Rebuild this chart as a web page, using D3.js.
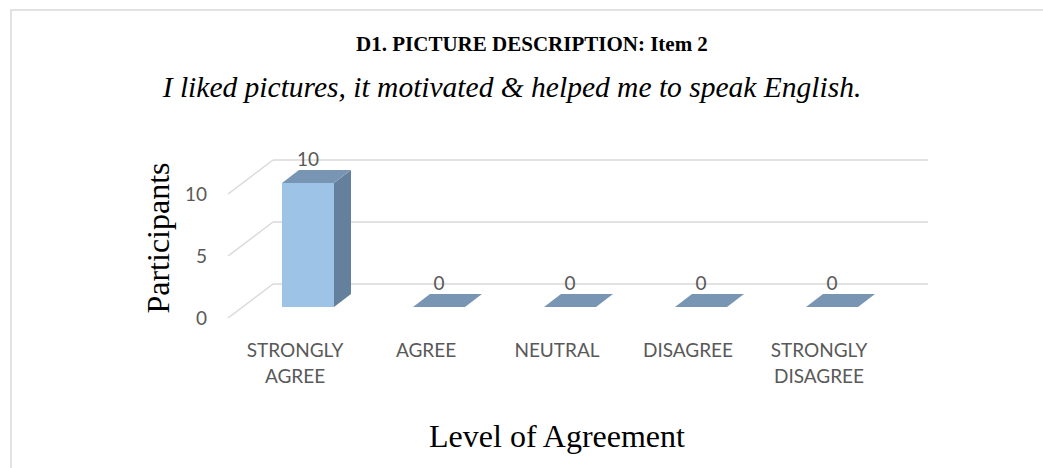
<!DOCTYPE html>
<html>
<head>
  <meta charset="utf-8">
  <style type="text/css">
  body {
    margin: 0;
    background: #fff;
  }
  svg {
    display: block;
  }
  .title {
    font-family: "Liberation Serif", "Times New Roman", serif;
    font-weight: bold;
    font-size: 21px;
    fill: #000;
  }
  .subtitle {
    font-family: "Liberation Serif", "Times New Roman", serif;
    font-style: italic;
    font-size: 29.5px;
    fill: #000;
  }
  .axis-title {
    font-family: "Liberation Serif", "Times New Roman", serif;
    font-size: 32px;
    fill: #000;
  }
  .tick-label, .cat-label, .data-label {
    font-family: Lato, "Open Sans", sans-serif;
    fill: #595959;
  }
  .tick-label { font-size: 19px; }
  .cat-label { font-size: 19px; }
  .data-label { font-size: 19px; }
  .grid line {
    stroke: #d9d9d9;
    stroke-width: 1.5px;
  }
  </style>
</head>
<body>
  <script src="https://d3js.org/d3.v7.min.js"></script>
  <script>
    // values
    var categories = ["STRONGLY AGREE", "AGREE", "NEUTRAL", "DISAGREE", "STRONGLY DISAGREE"];
    var participants = [10, 0, 0, 0, 0];
    var yTicks = [0, 5, 10];

    var W = 1043, H = 468;

    // 3d layout: back wall floor at y=284, front floor edge at y=318
    var wallBase = 284, wallLeft = 273, wallRight = 928;
    var floorDx = 45, floorDy = 34;
    var barBase = 307, barDx = 17, barDy = 13;

    var x = d3.scaleBand()
        .domain(categories)
        .range([242.5, 897.5])
        .paddingInner(0.603)
        .paddingOuter(0.3015);
    var y = d3.scaleLinear()
        .domain([0, 10])
        .range([0, 124]);

    var svg = d3.select("body").append("svg")
        .attr("width", W)
        .attr("height", H);

    // chart frame
    svg.append("rect")
        .attr("x", 11).attr("y", 10)
        .attr("width", W).attr("height", H)
        .attr("fill", "none")
        .attr("stroke", "#d9d9d9")
        .attr("stroke-width", 1.5);

    svg.append("text")
        .attr("class", "title")
        .attr("x", 532).attr("y", 51)
        .attr("text-anchor", "middle")
        .text("D1. PICTURE DESCRIPTION: Item 2");
    svg.append("text")
        .attr("class", "subtitle")
        .attr("x", 512).attr("y", 97)
        .attr("text-anchor", "middle")
        .text("I liked pictures, it motivated & helped me to speak English.");

    // gridlines on back wall + floor diagonal
    var grid = svg.append("g").attr("class", "grid");
    grid.selectAll(".wall").data(yTicks).enter().append("line")
        .attr("x1", wallLeft).attr("x2", wallRight)
        .attr("y1", function(d) { return wallBase - y(d); })
        .attr("y2", function(d) { return wallBase - y(d); });
    grid.selectAll(".side").data(yTicks).enter().append("line")
        .attr("x1", wallLeft - floorDx).attr("x2", wallLeft)
        .attr("y1", function(d) { return wallBase - y(d) + floorDy; })
        .attr("y2", function(d) { return wallBase - y(d); });

    svg.selectAll(".tick-label").data(yTicks).enter().append("text")
        .attr("class", "tick-label")
        .attr("x", 207)
        .attr("y", function(d) { return wallBase - y(d) + floorDy; })
        .attr("dy", "0.35em")
        .attr("text-anchor", "end")
        .text(function(d) { return d; });

    // bars
    var bars = svg.selectAll(".bar").data(categories).enter().append("g")
        .attr("class", "bar");
    bars.append("rect")
        .attr("x", function(d) { return x(d); })
        .attr("y", function(d, i) { return barBase - y(participants[i]); })
        .attr("width", x.bandwidth())
        .attr("height", function(d, i) { return y(participants[i]); })
        .attr("fill", "#9dc3e6");
    bars.append("polygon")
        .attr("points", function(d, i) {
          var x1 = x(d) + x.bandwidth(), t = barBase - y(participants[i]);
          return [[x1, t], [x1 + barDx, t - barDy], [x1 + barDx, barBase - barDy], [x1, barBase]].join(" ");
        })
        .attr("fill", "#65809c");
    bars.append("polygon")
        .attr("points", function(d, i) {
          var x0 = x(d), x1 = x0 + x.bandwidth(), t = barBase - y(participants[i]);
          return [[x0, t], [x1, t], [x1 + barDx, t - barDy], [x0 + barDx, t - barDy]].join(" ");
        })
        .attr("fill", "#7896b4");

    svg.selectAll(".data-label").data(categories).enter().append("text")
        .attr("class", "data-label")
        .attr("x", function(d) { return x(d) + x.bandwidth() / 2; })
        .attr("y", function(d, i) { return barBase - y(participants[i]) - barDy - 4; })
        .attr("text-anchor", "middle")
        .text(function(d, i) { return participants[i]; });

    // category labels, wrapped on spaces
    var cat = svg.selectAll(".cat-label").data(categories).enter().append("text")
        .attr("class", "cat-label")
        .attr("text-anchor", "middle");
    cat.each(function(d) {
      var t = d3.select(this);
      var cx = x(d) + x.bandwidth() / 2 - 13;
      d.split(" ").forEach(function(w, k) {
        t.append("tspan")
          .attr("x", cx)
          .attr("y", 357 + k * 26)
          .text(w);
      });
    });

    svg.append("text")
        .attr("class", "axis-title")
        .attr("transform", "translate(169,238) rotate(-90)")
        .attr("text-anchor", "middle")
        .text("Participants");
    svg.append("text")
        .attr("class", "axis-title")
        .attr("x", 557).attr("y", 447)
        .attr("text-anchor", "middle")
        .text("Level of Agreement");
  </script>
</body>
</html>
